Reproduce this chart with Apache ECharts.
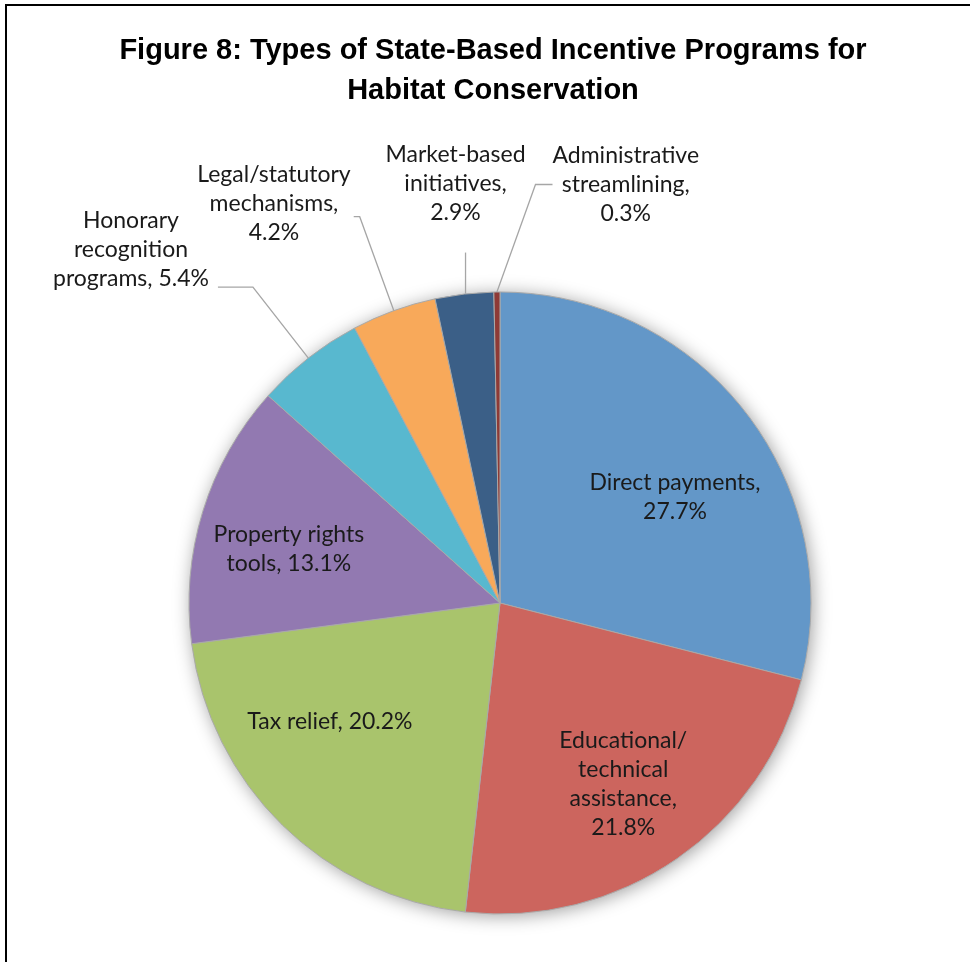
<!DOCTYPE html>
<html>
<head>
<meta charset="utf-8">
<script src="https://cdn.jsdelivr.net/npm/echarts@6/dist/echarts.min.js"></script>
<style>
  html, body { margin: 0; padding: 0; background: #ffffff; }
  #chart { width: 970px; height: 962px; }
</style>
</head>
<body>
<div id="chart"></div>
<script>
// Program types (line breaks as set in the labels) and their shares in percent
const categories = [
  'Direct payments',
  'Educational/\ntechnical\nassistance',
  'Tax relief',
  'Property rights\ntools',
  'Honorary\nrecognition\nprograms',
  'Legal/statutory\nmechanisms',
  'Market-based\ninitiatives',
  'Administrative\nstreamlining'
];
const shares = [27.7, 21.8, 20.2, 13.1, 5.4, 4.2, 2.9, 0.3];
const sliceColors = ['#6397C8', '#CC655E', '#A9C46C', '#9279B1', '#58B8CF', '#F8A95A', '#3B5F87', '#8E3A36'];
// whether the percentage goes on its own line
const valueOnNewLine = [true, true, false, false, false, true, true, true];
// slices whose label sits inside the pie
const labelInside = [true, true, true, true, false, false, false, false];

const CENTER = [500, 603];
const RADIUS = 311;
const LABEL_FONT = 'Lato, "Open Sans", "Noto Sans", sans-serif';

function labelText(i) {
  const text = categories[i] + (valueOnNewLine[i] ? ',\n' : ', ') + shares[i].toFixed(1) + '%';
  return text.split('\n').map(function (line) { return '{c|' + line + '}'; }).join('\n');
}

const richLine = {
  c: { align: 'center', fontFamily: LABEL_FONT, fontSize: 23, lineHeight: 29, color: '#1a1a1a' }
};

const mainData = categories.map(function (name, i) {
  return {
    name: name,
    value: shares[i],
    itemStyle: { color: sliceColors[i] },
    label: { show: !labelInside[i] },
    labelLine: { show: !labelInside[i] }
  };
});
// per-slice leader line settings for the outside labels
mainData[4].labelLine.length = 90;  mainData[4].labelLine.length2 = 35;
mainData[4].label.distanceToLabelLine = 9; mainData[4].label.padding = [0, 0, 76, 0];
mainData[5].labelLine.length = 100; mainData[5].labelLine.length2 = 6;
mainData[5].label.distanceToLabelLine = 3; mainData[5].label.padding = [0, 0, 26, 0];
mainData[7].labelLine.length2 = 17;

// fine placement of the labels inside the large slices
const insideOffsets = [[8, 24], [3, 7], [-22, -32], [-9, 8]];
const insideData = categories.map(function (name, i) {
  return {
    name: name,
    value: shares[i],
    label: { show: labelInside[i], offset: insideOffsets[i] || [0, 0] }
  };
});

const chart = echarts.init(document.getElementById('chart'), null, { renderer: 'canvas' });
chart.setOption({
  backgroundColor: '#ffffff',
  animation: false,
  title: {
    text: 'Figure 8: Types of State-Based Incentive Programs for\nHabitat Conservation',
    left: 493,
    top: 31,
    padding: 0,
    textAlign: 'center',
    textStyle: {
      fontFamily: '"Liberation Sans", Arial, sans-serif',
      fontWeight: 'bold',
      fontSize: 29,
      lineHeight: 40,
      color: '#000000'
    }
  },
  graphic: [{
    type: 'rect',
    silent: true,
    z: -10,
    shape: { x: 6, y: 5, width: 1000, height: 1000 },
    style: { fill: 'none', stroke: '#000000', lineWidth: 2 }
  }],
  series: [
    {
      // soft drop shadow under the whole pie
      type: 'pie',
      silent: true,
      z: 1,
      center: CENTER,
      radius: RADIUS,
      label: { show: false },
      labelLine: { show: false },
      data: [{ value: 1, itemStyle: { color: '#ffffff', shadowBlur: 18, shadowColor: 'rgba(0,0,0,0.38)', shadowOffsetX: 2, shadowOffsetY: 2 } }]
    },
    {
      type: 'pie',
      z: 2,
      center: CENTER,
      radius: RADIUS,
      startAngle: 90,
      clockwise: true,
      avoidLabelOverlap: false,
      itemStyle: { borderColor: '#a9a9a9', borderWidth: 1 },
      label: {
        position: 'outside',
        formatter: function (p) { return labelText(p.dataIndex); },
        rich: richLine,
        distanceToLabelLine: 5
      },
      labelLine: {
        length: 40,
        length2: 10,
        lineStyle: { color: '#a6a6a6', width: 1.3 }
      },
      labelLayout: function (p) {
        if (p.dataIndex === 6) {
          // label centred above the slice, short vertical leader
          const lx = p.rect.x + p.rect.width / 2 - 2;
          return {
            x: lx - 10,
            y: p.rect.y - 64,
            align: 'center',
            verticalAlign: 'bottom',
            labelLinePoints: [[lx, p.rect.y + 2], [lx, p.rect.y - 39]]
          };
        }
        if (p.dataIndex === 7) {
          return { x: p.rect.x + p.rect.width + 52, y: p.rect.y - 107, align: 'left', verticalAlign: 'middle' };
        }
      },
      data: mainData
    },
    {
      // label layer for the large slices
      type: 'pie',
      silent: true,
      z: 3,
      center: CENTER,
      radius: [106, RADIUS],
      startAngle: 90,
      clockwise: true,
      itemStyle: { color: 'rgba(0,0,0,0)', borderWidth: 0 },
      label: {
        position: 'inside',
        formatter: function (p) { return labelText(p.dataIndex); },
        rich: richLine
      },
      labelLine: { show: false },
      data: insideData
    }
  ]
});
</script>
</body>
</html>
